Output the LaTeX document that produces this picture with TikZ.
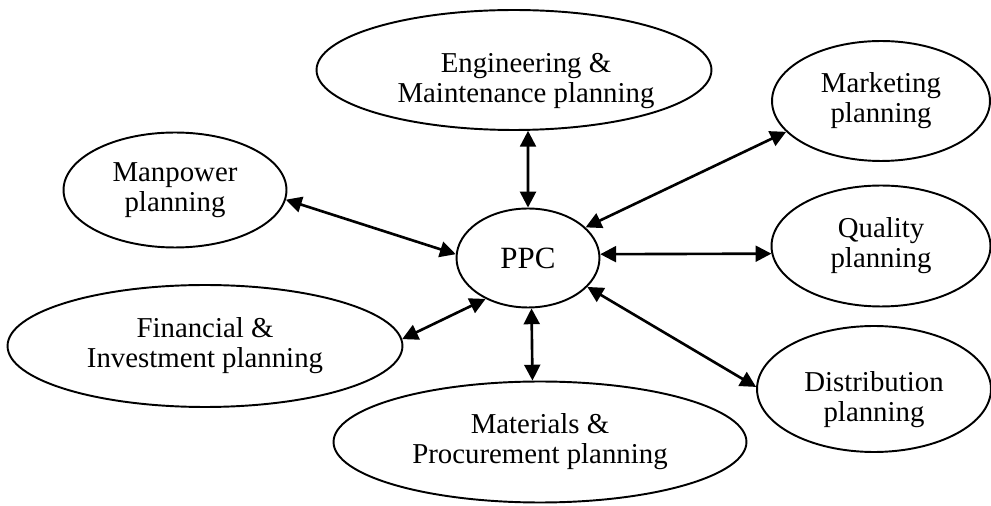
\documentclass[tikz,border=0pt]{standalone}
\usepackage{fontspec}
\setmainfont{Liberation Serif}
\usetikzlibrary{shapes.geometric,arrows.meta}

\begin{document}
\begin{tikzpicture}[x=0.02cm,y=-0.02cm,>={Triangle[length=9pt,width=9pt]},
                    plan node/.style={ellipse,draw,line width=1.1pt,inner sep=0pt,align=center,
                                      font=\fontsize{16.4}{17}\selectfont},
                    label text/.style={align=center,font=\fontsize{16.4}{17}\selectfont,yshift=-0.22cm},
                    link/.style={<->,line width=1.5pt}]
  \useasboundingbox (0,0) rectangle (991,506);
  \node[plan node,minimum width=2.86cm,minimum height=1.98cm,font=\fontsize{17.6}{19}\selectfont] (ppc) at (528,258) {PPC};
  \node[plan node,minimum width=7.9cm,minimum height=2.4cm,
        label={[label text,xshift=0.24cm]center:Engineering \&\\Maintenance planning}] (eng) at (514,70) {};
  \node[plan node,minimum width=4.36cm,minimum height=2.4cm] (mkt) at (881,101) {Marketing\\planning};
  \node[plan node,minimum width=4.46cm,minimum height=2.3cm] (man) at (175,190) {Manpower\\planning};
  \node[plan node,minimum width=4.38cm,minimum height=2.42cm] (qual) at (881,246) {Quality\\planning};
  \node[plan node,minimum width=7.9cm,minimum height=2.44cm] (fin) at (205,346) {Financial \&\\Investment planning};
  \node[plan node,minimum width=8.26cm,minimum height=2.42cm] (mat) at (540,442) {Materials \&\\Procurement planning};
  \node[plan node,minimum width=4.68cm,minimum height=2.52cm,
        label={[label text]center:Distribution\\planning}] (dist) at (874,389) {};
  % connectors
  \draw[link] (eng.-77) -- (ppc.north);
  \draw[link] (ppc.28) -- (mkt.198);
  \draw[link] (ppc.3) -- (qual.184);
  \draw[link] (ppc.334) -- (dist.179);
  \draw[link] (ppc.-86) -- (mat.97);
  \draw[link] (ppc.224) -- (fin.2);
  \draw[link] (ppc.177) -- (man.355);
\end{tikzpicture}
\end{document}
